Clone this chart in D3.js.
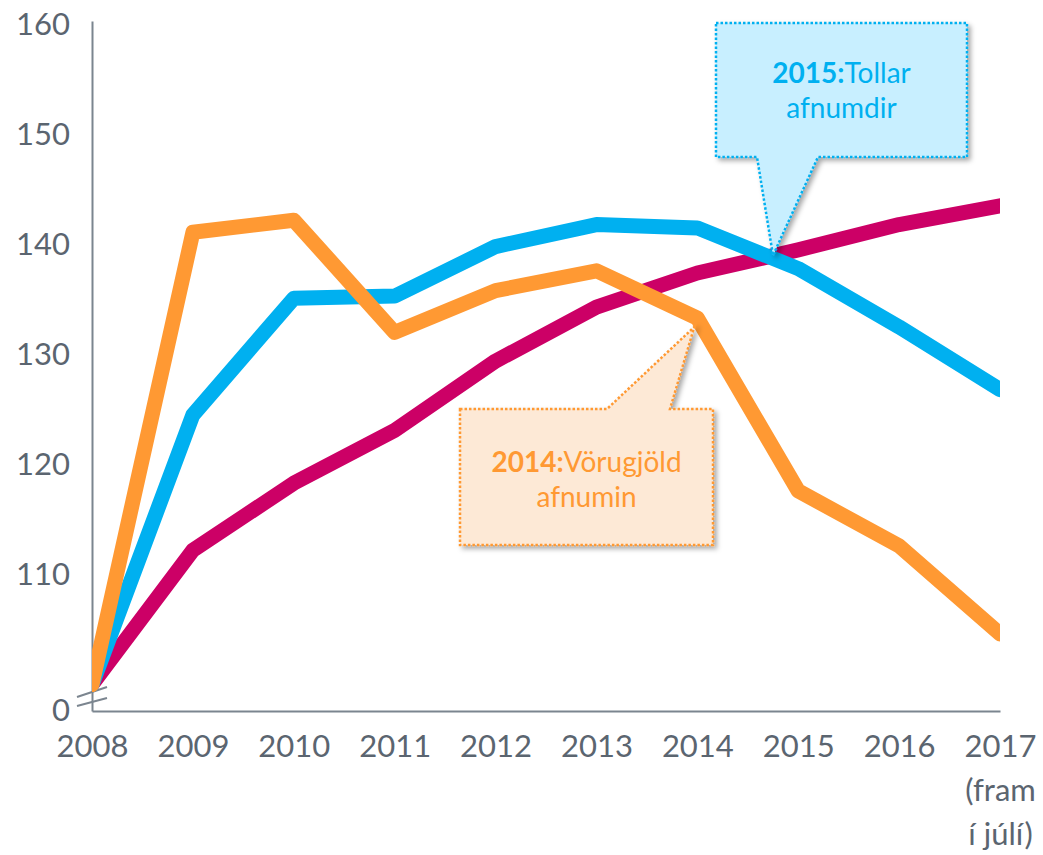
<!DOCTYPE html>
<html>
<head>
<meta charset="utf-8">
<script src="https://cdn.jsdelivr.net/npm/d3@7"></script>
<style>
  body { margin: 0; background: #fff; }
  svg { display: block; font-family: Lato, "Open Sans", sans-serif; }
</style>
</head>
<body>
<div id="chart"></div>
<script>
// data
const years = [2008, 2009, 2010, 2011, 2012, 2013, 2014, 2015, 2016, 2017]
const pinkSeries = [100, 112.2, 118.3, 123.1, 129.4, 134.3, 137.4, 139.5, 141.8, 143.5]
const blueSeries = [100, 124.5, 135.1, 135.3, 139.8, 141.8, 141.5, 137.8, 132.5, 126.8]
const orangeSeries = [100, 141.1, 142.2, 132.0, 135.8, 137.6, 133.3, 117.6, 112.6, 104.6]
const yTicks = [110, 120, 130, 140, 150, 160]
const xLabels = ["2008", "2009", "2010", "2011", "2012", "2013", "2014", "2015", "2016", ["2017", "(fram", "í júlí)"]]

const width = 1043
const height = 855
const yBottom = 97.6   // where the broken axis starts, labelled "0"

const textColor = "#5b6570"
const axisColor = "#7b858f"

const x = d3.scaleLinear().domain([2008, 2017]).range([92, 1000])
const y = d3.scaleLinear().domain([yBottom, 160.3]).range([711, 21])

const svg = d3.select("#chart").append("svg")
  .attr("width", width)
  .attr("height", height)

const defs = svg.append("defs")
defs.append("clipPath").attr("id", "plotclip")
  .append("rect")
  .attr("x", x(2008)).attr("y", 0)
  .attr("width", x(2017) - x(2008)).attr("height", height)

const shadow = defs.append("filter").attr("id", "shadow")
  .attr("x", "-10%").attr("y", "-10%").attr("width", "130%").attr("height", "130%")
shadow.append("feDropShadow")
  .attr("dx", 3).attr("dy", 3).attr("stdDeviation", 2.5)
  .attr("flood-color", "#000").attr("flood-opacity", 0.35)

// y axis
const yAxis = svg.append("g")
  .attr("transform", `translate(${x(2008)},0)`)
  .call(d3.axisLeft(y).tickValues([yBottom, ...yTicks]).tickSize(0).tickPadding(22)
    .tickFormat(d => d === yBottom ? "0" : d))
yAxis.select(".domain").attr("stroke", axisColor).attr("stroke-width", 2)
yAxis.selectAll("text")
  .attr("fill", textColor)
  .style("font-size", "31px")
  .style("font-family", "Lato, 'Open Sans', sans-serif")
  .attr("text-anchor", "end")
  .attr("x", -22)

// x axis
const xAxis = svg.append("g")
  .attr("transform", `translate(0,${y(yBottom)})`)
  .call(d3.axisBottom(x).tickValues(years).tickSize(0).tickFormat(""))
xAxis.select(".domain").attr("stroke", axisColor).attr("stroke-width", 2)

xAxis.selectAll(".tick").each(function(d, i) {
  const lines = [].concat(xLabels[i])
  const t = d3.select(this).append("text")
    .attr("fill", textColor)
    .attr("text-anchor", "middle")
    .style("font-size", "31px")
    .style("font-family", "Lato, 'Open Sans', sans-serif")
  lines.forEach((s, k) => {
    t.append("tspan").attr("x", 0).attr("y", 46 + k * 44).text(s)
  })
})

// axis break marks
const brk = svg.append("g").attr("stroke", axisColor).attr("stroke-width", 2)
brk.append("line").attr("x1", x(2008) - 15).attr("y1", y(yBottom) - 14)
  .attr("x2", x(2008) + 15).attr("y2", y(yBottom) - 24)
brk.append("line").attr("x1", x(2008) - 15).attr("y1", y(yBottom) - 5)
  .attr("x2", x(2008) + 15).attr("y2", y(yBottom) - 13)

// lines
const line = d3.line()
  .x((d, i) => x(years[i]))
  .y(d => y(d))

const series = [
  { name: "pink", values: pinkSeries, color: "#cc0066" },
  { name: "blue", values: blueSeries, color: "#00b0f0" },
  { name: "orange", values: orangeSeries, color: "#ff9933" }
]

svg.append("g")
  .attr("clip-path", "url(#plotclip)")
  .selectAll("path")
  .data(series)
  .join("path")
  .attr("fill", "none")
  .attr("stroke", d => d.color)
  .attr("stroke-width", 15)
  .attr("stroke-linejoin", "round")
  .attr("stroke-linecap", "round")
  .attr("d", d => line(d.values))

// callouts
function callout(c) {
  const g = svg.append("g")
  const pts = [
    [c.x0, c.y0], [c.x1, c.y0], [c.x1, c.y1]
  ]
  let path
  if (c.side === "bottom") {
    path = `M${c.x0},${c.y0} H${c.x1} V${c.y1} H${c.b1} L${c.tx},${c.ty} L${c.b0},${c.y1} H${c.x0} Z`
  } else {
    path = `M${c.x0},${c.y0} H${c.b0} L${c.tx},${c.ty} L${c.b1},${c.y0} H${c.x1} V${c.y1} H${c.x0} Z`
  }
  g.append("path")
    .attr("d", path)
    .attr("fill", c.fill)
    .attr("stroke", c.color)
    .attr("stroke-width", 2.5)
    .attr("stroke-dasharray", "2.5 2")
    .attr("filter", "url(#shadow)")
  const cx = (c.x0 + c.x1) / 2
  const t = g.append("text")
    .attr("text-anchor", "middle")
    .attr("fill", c.color)
    .style("font-size", "28px")
    .style("font-family", "Lato, 'Open Sans', sans-serif")
  const l1 = t.append("tspan").attr("x", cx).attr("y", c.ly)
  l1.append("tspan").attr("font-weight", "bold").text(c.bold)
  l1.append("tspan").text(c.rest)
  t.append("tspan").attr("x", cx).attr("y", c.ly + 35).text(c.line2)
}

callout({
  side: "bottom", x0: 716, y0: 23, x1: 967, y1: 157,
  b0: 757, b1: 818, tx: x(2014.75), ty: y(139.0),
  fill: "#c8efff", color: "#00b0f0",
  bold: "2015:", rest: "Tollar", line2: "afnumdir", ly: 83
})

callout({
  side: "top", x0: 460, y0: 409, x1: 713, y1: 545,
  b0: 607, b1: 670, tx: x(2013.97), ty: y(132.5),
  fill: "#fde9d6", color: "#ff9933",
  bold: "2014:", rest: "Vörugjöld", line2: "afnumin", ly: 472
})
</script>
</body>
</html>
